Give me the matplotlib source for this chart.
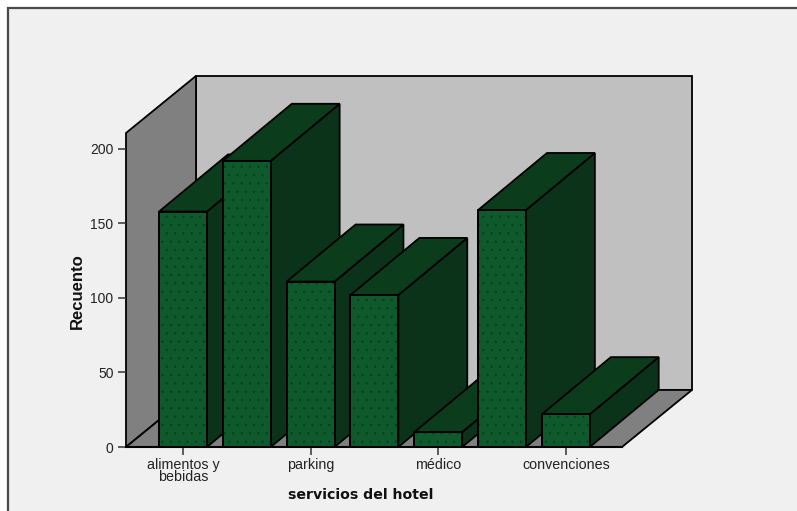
import matplotlib
matplotlib.use('Agg')
import matplotlib.pyplot as plt
from matplotlib.lines import Line2D
from matplotlib.patches import Polygon, Rectangle

# Datos (las categorias sin etiqueta quedan vacias)
categorias = ['alimentos y\nbebidas', '', 'parking', '', 'médico', '', 'convenciones']
valores = [158, 192, 111, 102, 10, 159, 22]
ticks_y = [0, 50, 100, 150, 200]

# Colores
FONDO = '#f0f0f0'
PARED_FONDO = '#c0c0c0'
PARED_LADO = '#808080'
VERDE_FRENTE = '#0f5a2d'
VERDE_TOPE = '#0b3d1c'
VERDE_LADO = '#0a331a'
PUNTOS = '#0a3f1e'

# Profundidad de la caja 3D, en unidades de los ejes
PROF_X = 1.097
PROF_Y = 38.3
PROF_BARRA_X = 1.08
ANCHO = 0.75
Y_MAX = 210.7

plt.rcParams['font.family'] = ['Liberation Sans', 'DejaVu Sans']
plt.rcParams['hatch.linewidth'] = 0.5

fig = plt.figure(figsize=(7.97, 5.11), dpi=100, facecolor='white')

# Marco exterior, se corta en los bordes derecho e inferior
fig.add_artist(Rectangle((8 / 797, -0.02), 1.02, 1.02 - 8 / 511, transform=fig.transFigure,
                         facecolor=FONDO, edgecolor='#4a4a4a', linewidth=1.6, zorder=-1))

ax = fig.add_axes([126 / 797, (511 - 447) / 511, (622 - 126) / 797, (447 - 133) / 511])
ax.set_xlim(-0.893, 6.88)
ax.set_ylim(0, Y_MAX)
ax.patch.set_visible(False)


def cara(puntos, color, **kw):
    ax.add_patch(Polygon(puntos, closed=True, facecolor=color, edgecolor='black',
                         linewidth=1.3, clip_on=False, joinstyle='miter', **kw))


x0, x1 = ax.get_xlim()

# Paredes y suelo
cara([(x0 + PROF_X, PROF_Y), (x1 + PROF_X, PROF_Y), (x1 + PROF_X, Y_MAX + PROF_Y),
      (x0 + PROF_X, Y_MAX + PROF_Y)], PARED_FONDO)
cara([(x0, 0), (x0 + PROF_X, PROF_Y), (x0 + PROF_X, Y_MAX + PROF_Y), (x0, Y_MAX)], PARED_LADO)
cara([(x0, 0), (x1, 0), (x1 + PROF_X, PROF_Y), (x0 + PROF_X, PROF_Y)], PARED_LADO)

# Barras de izquierda a derecha, cada frente tapa el lado de la anterior
for i, v in enumerate(valores):
    izq, der = i - ANCHO / 2, i + ANCHO / 2
    cara([(der, 0), (der + PROF_BARRA_X, PROF_Y), (der + PROF_BARRA_X, v + PROF_Y), (der, v)],
         VERDE_LADO)
    cara([(izq, v), (der, v), (der + PROF_BARRA_X, v + PROF_Y), (izq + PROF_BARRA_X, v + PROF_Y)],
         VERDE_TOPE)
    cara([(izq, 0), (der, 0), (der, v), (izq, v)], VERDE_FRENTE)
    ax.add_patch(Rectangle((izq, 0), ANCHO, v, facecolor='none', edgecolor=PUNTOS,
                           hatch='..', linewidth=0, clip_on=False))
    ax.add_patch(Rectangle((izq, 0), ANCHO, v, facecolor='none', edgecolor='black',
                           linewidth=1.3, clip_on=False))

# Solo se etiquetan las categorias con texto
pos_x = [i for i, c in enumerate(categorias) if c]
ax.set_xticks(pos_x)
ax.set_xticklabels([categorias[i] for i in pos_x], fontsize=10.3, color='#222222', linespacing=0.8)
ax.set_yticks(ticks_y)
ax.set_yticklabels([str(t) for t in ticks_y], fontsize=10, color='#222222')
ax.tick_params(axis='both', length=6, width=1.1, color='#333333', pad=3)
ax.tick_params(axis='x', pad=2)

for lado in ['top', 'right', 'left', 'bottom']:
    ax.spines[lado].set_visible(False)
ax.add_line(Line2D([x0, x1], [0, 0], color='black', linewidth=1.5, clip_on=False))

fig.text(360.5 / 797, 1 - 495 / 511, 'servicios del hotel', ha='center', va='center',
         fontsize=10.2, fontweight='bold', family='DejaVu Sans', color='#111111')
fig.text(77 / 797, 1 - 291 / 511, 'Recuento', ha='center', va='center', rotation=90,
         fontsize=12, fontweight='bold', color='#111111')

fig.savefig('out.png', dpi=100, facecolor=fig.get_facecolor())
